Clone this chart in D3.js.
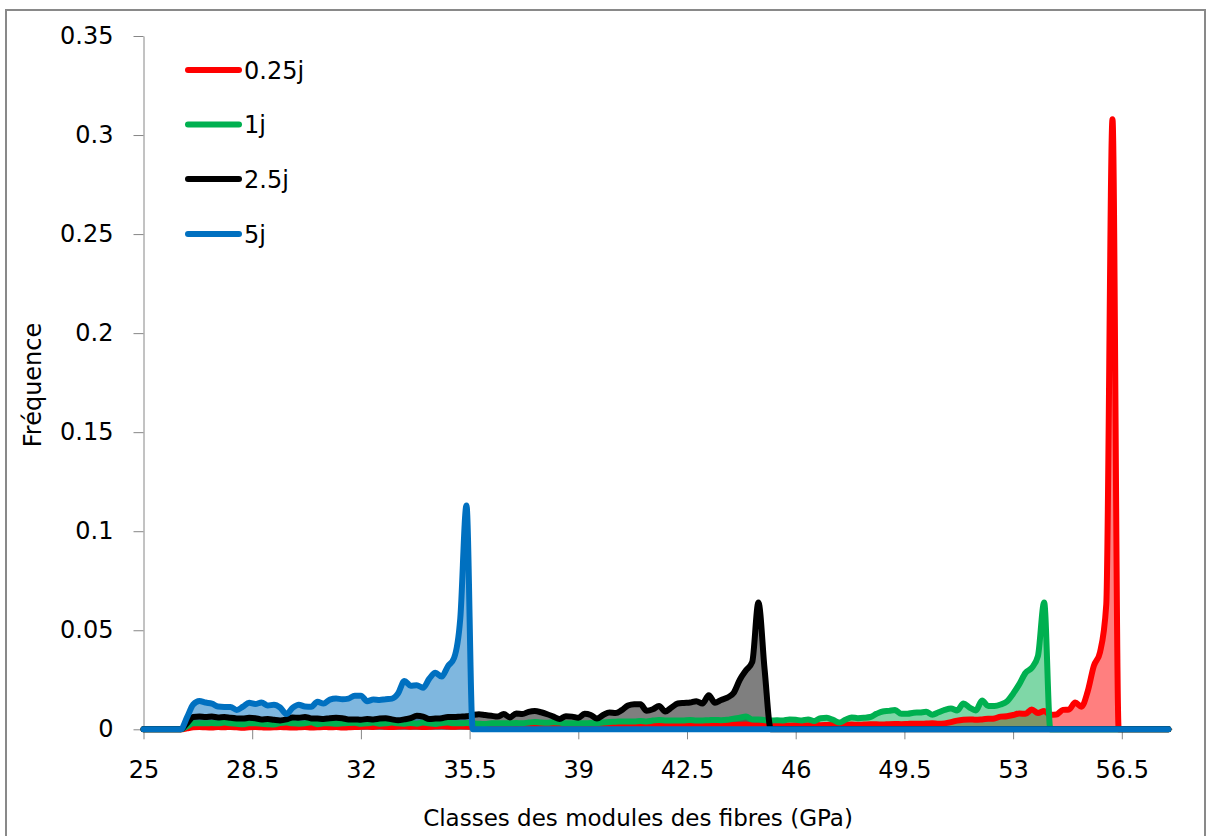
<!DOCTYPE html>
<html>
<head>
<meta charset="utf-8">
<script src="https://cdn.jsdelivr.net/npm/d3@7"></script>
<style>
  html, body { margin: 0; padding: 0; background: #fff; }
  svg { display: block; }
</style>
</head>
<body>
<svg id="chart" width="1211" height="836"></svg>
<script>
// ---------------- DATA ----------------
const categories = [
  25,25.2,25.4,25.6,25.8,26,26.2,26.4,26.6,26.8,
  27,27.2,27.4,27.6,27.8,28,28.2,28.4,28.6,28.8,
  29,29.2,29.4,29.6,29.8,30,30.2,30.4,30.6,30.8,
  31,31.2,31.4,31.6,31.8,32,32.2,32.4,32.6,32.8,
  33,33.2,33.4,33.6,33.8,34,34.2,34.4,34.6,34.8,
  35,35.2,35.4,35.6,35.8,36,36.2,36.4,36.6,36.8,
  37,37.2,37.4,37.6,37.8,38,38.2,38.4,38.6,38.8,
  39,39.2,39.4,39.6,39.8,40,40.2,40.4,40.6,40.8,
  41,41.2,41.4,41.6,41.8,42,42.2,42.4,42.6,42.8,
  43,43.2,43.4,43.6,43.8,44,44.2,44.4,44.6,44.8,
  45,45.2,45.4,45.6,45.8,46,46.2,46.4,46.6,46.8,
  47,47.2,47.4,47.6,47.8,48,48.2,48.4,48.6,48.8,
  49,49.2,49.4,49.6,49.8,50,50.2,50.4,50.6,50.8,
  51,51.2,51.4,51.6,51.8,52,52.2,52.4,52.6,52.8,
  53,53.2,53.4,53.6,53.8,54,54.2,54.4,54.6,54.8,
  55,55.2,55.4,55.6,55.8,56,56.2,56.4,56.6,56.8,
  57,57.2,57.4,57.6,57.8,58
];

const serie025j = [
  0,0,0,0,0,0,0,0.0005,0.001,0.0012,
  0.001,0.0009,0.0011,0.001,0.0012,0.001,0.0008,0.001,0.0011,0.001,
  0.0009,0.001,0.0012,0.001,0.0009,0.001,0.0011,0.0009,0.001,0.0012,
  0.001,0.0011,0.0009,0.001,0.0011,0.0013,0.0014,0.0012,0.0016,0.0013,
  0.0012,0.0014,0.0015,0.0013,0.0014,0.0012,0.0013,0.0015,0.0017,0.0014,
  0.0013,0.0015,0.0014,0.0012,0.001,0.001,0.0012,0.001,0.0011,0.001,
  0.0009,0.001,0.0012,0.0013,0.0014,0.0012,0.0013,0.0011,0.0012,0.0013,
  0.0012,0.001,0.0011,0.0012,0.0013,0.0012,0.0014,0.0015,0.0014,0.0013,
  0.0014,0.0016,0.0018,0.002,0.0021,0.002,0.0018,0.0019,0.0018,0.0017,
  0.0018,0.0019,0.002,0.0019,0.002,0.0022,0.0023,0.0024,0.0021,0.0019,
  0.0018,0.0017,0.0018,0.0018,0.0019,0.002,0.002,0.0021,0.0022,0.0021,
  0.0022,0.0023,0.0022,0.0023,0.0024,0.0023,0.0024,0.0025,0.0025,0.0024,
  0.0026,0.0027,0.0026,0.0027,0.0028,0.0028,0.0029,0.003,0.0028,0.003,
  0.0036,0.0044,0.0048,0.005,0.0048,0.005,0.0053,0.0055,0.0064,0.0066,
  0.0072,0.008,0.0078,0.01,0.0082,0.0092,0.0074,0.0075,0.0098,0.01,
  0.0135,0.0114,0.019,0.032,0.039,0.063,0.308,0,0,0,
  0,0,0,0,0,0
];

const serie1j = [
  0,0,0,0,0,0,0,0.0015,0.003,0.003,
  0.003,0.0032,0.003,0.0034,0.003,0.0028,0.0025,0.003,0.003,0.0028,
  0.0026,0.0024,0.0032,0.0034,0.003,0.0028,0.003,0.0035,0.0026,0.003,
  0.003,0.0028,0.003,0.0032,0.0033,0.0028,0.003,0.0034,0.0028,0.003,
  0.0034,0.003,0.0028,0.0032,0.0028,0.0034,0.003,0.0027,0.0032,0.0034,
  0.003,0.003,0.0032,0.003,0.0028,0.0027,0.003,0.003,0.003,0.003,
  0.0032,0.003,0.0034,0.0037,0.0034,0.0033,0.0036,0.0034,0.003,0.003,
  0.003,0.003,0.0032,0.003,0.0034,0.0037,0.0038,0.004,0.004,0.004,
  0.0042,0.004,0.0044,0.0047,0.0045,0.0044,0.0044,0.0045,0.0047,0.0044,
  0.0045,0.0046,0.0047,0.0046,0.0048,0.0054,0.0058,0.0064,0.005,0.005,
  0.0046,0.0044,0.0046,0.0044,0.005,0.0048,0.0044,0.005,0.0042,0.0056,
  0.0058,0.0048,0.0034,0.0048,0.006,0.0056,0.0058,0.0062,0.0078,0.009,
  0.0093,0.0097,0.0078,0.0078,0.0084,0.0085,0.0088,0.0074,0.0086,0.0098,
  0.0105,0.0095,0.013,0.011,0.0095,0.0145,0.0118,0.0118,0.0125,0.014,
  0.018,0.0228,0.0285,0.031,0.037,0.064,0,0,0,0,
  0,0,0,0,0,0,0,0,0,0,
  0,0,0,0,0,0
];

const serie25j = [
  0,0,0,0,0,0,0,0.003,0.0062,0.0064,
  0.0062,0.0064,0.006,0.0062,0.0058,0.0055,0.0054,0.0058,0.0056,0.005,
  0.0052,0.0048,0.0045,0.005,0.006,0.0058,0.0062,0.0055,0.0054,0.0052,
  0.0056,0.0058,0.0056,0.005,0.005,0.0048,0.0052,0.005,0.0054,0.0056,
  0.005,0.0046,0.005,0.0056,0.0068,0.0064,0.0052,0.0054,0.0056,0.0062,
  0.0062,0.0064,0.0066,0.0072,0.0076,0.0072,0.0068,0.0064,0.0077,0.006,
  0.008,0.0077,0.0088,0.0092,0.0086,0.0076,0.0064,0.0052,0.0066,0.0064,
  0.0058,0.0078,0.0072,0.0054,0.0072,0.0085,0.0082,0.0097,0.012,0.0127,
  0.0126,0.0094,0.0101,0.0118,0.009,0.011,0.013,0.0133,0.0135,0.0142,
  0.013,0.0172,0.0134,0.0148,0.016,0.0183,0.025,0.0298,0.034,0.064,
  0.03,0,0,0,0,0,0,0,0,0,
  0,0,0,0,0,0,0,0,0,0,
  0,0,0,0,0,0,0,0,0,0,
  0,0,0,0,0,0,0,0,0,0,
  0,0,0,0,0,0,0,0,0,0,
  0,0,0,0,0,0,0,0,0,0,
  0,0,0,0,0,0
];

const serie5j = [
  0,0,0,0,0,0,0,0.006,0.0125,0.0143,
  0.0135,0.013,0.0115,0.0113,0.0113,0.0098,0.0114,0.0134,0.0128,0.0135,
  0.012,0.0124,0.011,0.0077,0.0108,0.0124,0.0115,0.0114,0.0139,0.013,
  0.015,0.0155,0.0152,0.0155,0.017,0.017,0.0142,0.015,0.0148,0.0152,
  0.0155,0.0182,0.0244,0.022,0.0222,0.021,0.0255,0.0285,0.0266,0.0318,
  0.036,0.056,0.113,0,0,0,0,0,0,0,
  0,0,0,0,0,0,0,0,0,0,
  0,0,0,0,0,0,0,0,0,0,
  0,0,0,0,0,0,0,0,0,0,
  0,0,0,0,0,0,0,0,0,0,
  0,0,0,0,0,0,0,0,0,0,
  0,0,0,0,0,0,0,0,0,0,
  0,0,0,0,0,0,0,0,0,0,
  0,0,0,0,0,0,0,0,0,0,
  0,0,0,0,0,0,0,0,0,0,
  0,0,0,0,0,0,0,0,0,0,
  0,0,0,0,0,0
];

const seriesNames  = ["0.25j", "1j", "2.5j", "5j"];
const seriesValues = [serie025j, serie1j, serie25j, serie5j];
const seriesColors = ["#FF0000", "#00B050", "#000000", "#0070C0"];

const xTickValues = [25, 28.5, 32, 35.5, 39, 42.5, 46, 49.5, 53, 56.5];
const xTickLabels = ["25", "28.5", "32", "35.5", "39", "42.5", "46", "49.5", "53", "56.5"];
const yTickValues = [0, 0.05, 0.1, 0.15, 0.2, 0.25, 0.3, 0.35];
const yTickLabels = ["0", "0.05", "0.1", "0.15", "0.2", "0.25", "0.3", "0.35"];

const xTitle = "Classes des modules des fibres (GPa)";
const yTitle = "Fréquence";

// ---------------- LAYOUT ----------------
const FONT = "DejaVu Sans";
const AXIS_COLOR = "#868686";
const plotLeft = 143.5, plotTop = 36, plotBottom = 729.3;
const xPerUnit = 108.7 / 3.5;
const xDomain = [25, 58];
const plotRight = plotLeft + (xDomain[1] - xDomain[0]) * xPerUnit;

const svg = d3.select("#chart");

// outer chart border
svg.append("rect")
  .attr("x", 6).attr("y", 10)
  .attr("width", 1199).attr("height", 840)
  .attr("fill", "#fff")
  .attr("stroke", "#898989").attr("stroke-width", 2);

const x = d3.scaleLinear().domain(xDomain).range([plotLeft, plotRight]);
const y = d3.scaleLinear().domain([0, 0.35]).range([plotBottom, plotTop]);

// Y axis
const yAxis = d3.axisLeft(y)
  .tickValues(yTickValues)
  .tickFormat((d, i) => yTickLabels[i])
  .tickSize(10).tickSizeOuter(0).tickPadding(20);
const gy = svg.append("g")
  .attr("transform", `translate(${plotLeft},0)`)
  .call(yAxis);
gy.select(".domain").attr("stroke", AXIS_COLOR);
gy.selectAll(".tick line").attr("stroke", AXIS_COLOR);
gy.selectAll(".tick text")
  .attr("font-family", FONT).attr("font-size", 24).attr("fill", "#000");

// X axis
const xAxis = d3.axisBottom(x)
  .tickValues(xTickValues)
  .tickFormat((d, i) => xTickLabels[i])
  .tickSize(10).tickSizeOuter(0).tickPadding(22);
const gx = svg.append("g")
  .attr("transform", `translate(0,${plotBottom})`)
  .call(xAxis);
gx.select(".domain").attr("stroke", AXIS_COLOR)
  .attr("d", `M${plotLeft},0H${plotRight + 4}`);
gx.selectAll(".tick line").attr("stroke", AXIS_COLOR);
gx.selectAll(".tick text")
  .attr("font-family", FONT).attr("font-size", 24).attr("fill", "#000");

// axis titles
svg.append("text")
  .attr("x", 638).attr("y", 826)
  .attr("text-anchor", "middle")
  .attr("font-family", FONT).attr("font-size", 23).attr("fill", "#000")
  .text(xTitle);

svg.append("text")
  .attr("transform", "translate(41,385) rotate(-90)")
  .attr("text-anchor", "middle")
  .attr("font-family", FONT).attr("font-size", 24).attr("fill", "#000")
  .text(yTitle);

// series
const rows = seriesValues.map(vals => vals.map((v, i) => ({ c: categories[i], v })));

const area = d3.area()
  .x(d => x(d.c)).y0(y(0)).y1(d => y(d.v))
  .curve(d3.curveMonotoneX);
const line = d3.line()
  .x(d => x(d.c)).y(d => y(d.v))
  .curve(d3.curveMonotoneX);

const gData = svg.append("g");
rows.forEach((r, i) => {
  gData.append("path")
    .attr("d", area(r))
    .attr("fill", seriesColors[i])
    .attr("fill-opacity", 0.5)
    .attr("stroke", "none");
});
rows.forEach((r, i) => {
  gData.append("path")
    .attr("d", line(r))
    .attr("fill", "none")
    .attr("stroke", seriesColors[i])
    .attr("stroke-width", 6)
    .attr("stroke-linejoin", "round")
    .attr("stroke-linecap", "round");
});

// legend
const legendY = [70, 124.5, 179, 234];
const gLeg = svg.append("g");
seriesNames.forEach((name, i) => {
  gLeg.append("line")
    .attr("x1", 188).attr("x2", 239)
    .attr("y1", legendY[i]).attr("y2", legendY[i])
    .attr("stroke", seriesColors[i]).attr("stroke-width", 6)
    .attr("stroke-linecap", "round");
  gLeg.append("text")
    .attr("x", 244).attr("y", legendY[i])
    .attr("dy", "0.36em")
    .attr("font-family", FONT).attr("font-size", 24).attr("fill", "#000")
    .text(name);
});
</script>
</body>
</html>
